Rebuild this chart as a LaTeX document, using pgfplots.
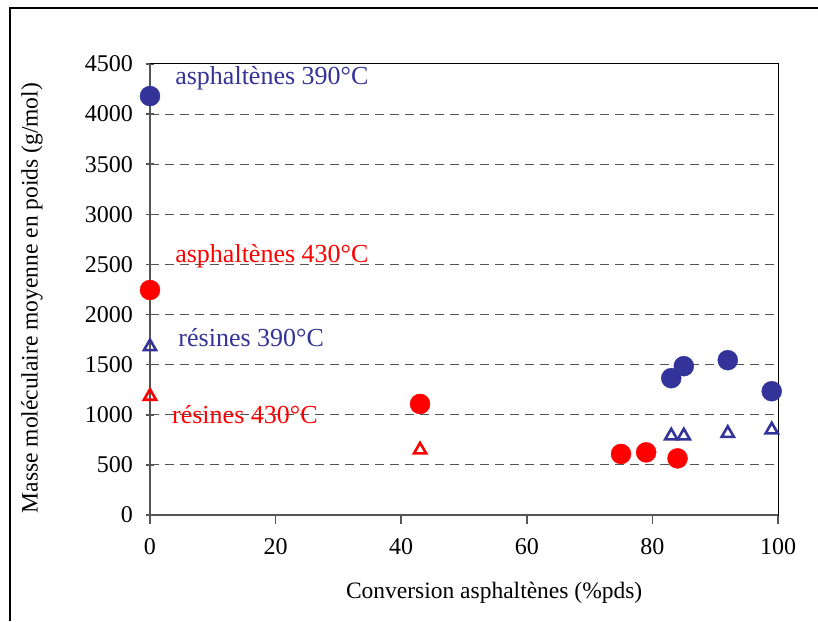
\documentclass[border=0pt]{standalone}
\usepackage{fontspec}
\setmainfont{Liberation Serif}
\usepackage{pgfplots}
\pgfplotsset{compat=1.18}
\definecolor{cblue}{HTML}{333399}
\definecolor{cred}{HTML}{FF0000}
\definecolor{gridgray}{HTML}{555555}
\begin{document}
\begin{tikzpicture}[x=1pt,y=1pt]
\useasboundingbox (0,0) rectangle (818,621);
\draw[line width=1.5pt] (10,0) -- (10,613) -- (818,613);
\begin{axis}[
  at={(150pt,106pt)}, anchor=south west,
  scale only axis, width=628pt, height=451pt,
  xmin=0, xmax=100, ymin=0, ymax=4500,
  xtick={0,20,40,60,80,100},
  ytick={0,500,1000,1500,2000,2500,3000,3500,4000,4500},
  /pgf/number format/assume math mode=true,
  /pgf/number format/1000 sep={},
  ticklabel style={font=\fontsize{24}{26}\selectfont},
  yticklabel style={xshift=-9pt},
  xticklabel style={yshift=-11pt},
  ymajorgrids, grid style={dashed, gridgray, line width=1pt, dash pattern=on 9pt off 6pt},
  axis line style={black, line width=1pt},
  tick style={gridgray, line width=1.5pt},
  ytick align=center, xtick align=outside,
  major tick length=9pt,
  xtick pos=bottom, ytick pos=left,
  xlabel={Conversion asphaltènes (\%pds)},
  ylabel={Masse moléculaire moyenne en poids (g/mol)},
  label style={font=\fontsize{23.5}{25}\selectfont},
  xlabel style={at={(axis description cs:0.548,-0.173)}, anchor=center},
  ylabel style={at={(axis description cs:-0.188,0.481)}, anchor=center, rotate=0},
  clip=false,
]
\draw[gridgray, line width=2pt] (rel axis cs:0,1) -- (rel axis cs:0,0) -- (rel axis cs:1,0);
% asphaltenes 390
\addplot[only marks, mark=*, mark size=10pt, cblue, mark options={fill=cblue, draw=cblue}] coordinates {
(0,4180) (83,1365) (85,1485) (92,1545) (99,1235)};
% asphaltenes 430
\addplot[only marks, mark=*, mark size=10pt, cred, mark options={fill=cred, draw=cred}] coordinates {
(0,2245) (43,1108) (75,609) (79,625) (84,565)};
% resines 390
\addplot[only marks, mark=triangle, mark size=7pt, cblue, mark options={line width=2.6pt}] coordinates {
(0,1680) (83,790) (85,790) (92,815) (99,850)};
% resines 430
\addplot[only marks, mark=triangle, mark size=7pt, cred, mark options={line width=2.6pt}] coordinates {
(0,1185) (43,650)};
\node[anchor=west, text=cblue, font=\fontsize{26}{28}\selectfont, inner sep=0pt] at (axis cs:4.0,4360) {asphaltènes 390°C};
\node[anchor=west, text=cred, font=\fontsize{26}{28}\selectfont, inner sep=0pt] at (axis cs:4.0,2584) {asphaltènes 430°C};
\node[anchor=west, text=cblue, font=\fontsize{26}{28}\selectfont, inner sep=0pt] at (axis cs:4.5,1766) {résines 390°C};
\node[anchor=west, text=cred, font=\fontsize{26}{28}\selectfont, inner sep=0pt] at (axis cs:3.5,998) {résines 430°C};
\end{axis}
\end{tikzpicture}
\end{document}
